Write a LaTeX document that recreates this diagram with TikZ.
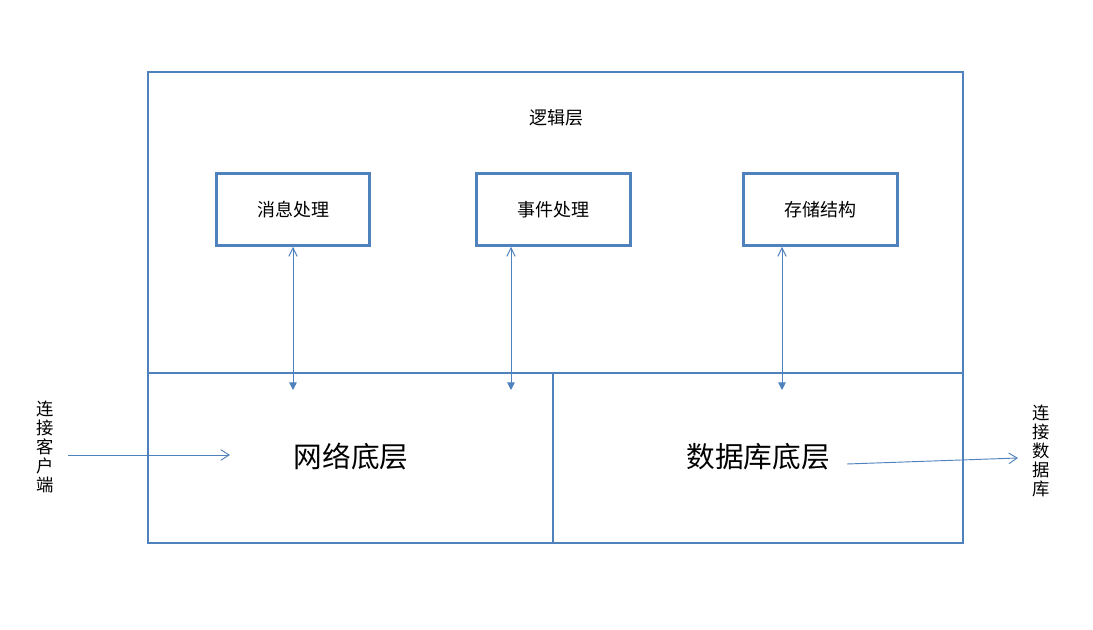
\documentclass[tikz,border=0pt]{standalone}
\usepackage{fontspec}
\setmainfont{Noto Sans CJK SC}
\usepackage{tikz}
\usetikzlibrary{arrows.meta,positioning,calc}
\definecolor{LYBlue}{HTML}{4F81BD}

\begin{document}
\begin{tikzpicture}[
  x=0.75pt,y=-0.75pt,
  region/.style={draw=LYBlue,line width=2.2pt,inner sep=0pt},
  module/.style={draw=LYBlue,line width=2.2pt,minimum width=115pt,minimum height=54pt,
                 font=\fontsize{13.5}{15}\selectfont},
  biarr/.style={{Straight Barb[length=2.2mm,width=2.2mm]}-{Triangle[length=2mm,width=2mm]},line width=0.7pt,draw=LYBlue},
  inarr/.style={-{Straight Barb[length=2.2mm,width=2.8mm]},line width=0.7pt,draw=LYBlue},
  side/.style={font=\fontsize{13}{14.4}\selectfont,align=center,inner sep=0pt}
]
\useasboundingbox (0,0) rectangle (1093,630);
% three layers
\node[region,minimum width=611.25pt,minimum height=225.75pt] (logic) at (555.5,222.5) {};
\node[region,minimum width=303.75pt,minimum height=127.5pt] (net) at (350.5,458) {};
\node[region,minimum width=307.5pt,minimum height=127.5pt] (db) at (758,458) {};
\node[font=\fontsize{13.5}{15}\selectfont] (logictitle) at (556,118) {逻辑层};
\node[font=\fontsize{21.5}{24}\selectfont] (netlabel) at (351,457) {网络底层};
\node[font=\fontsize{21.5}{24}\selectfont] (dblabel) at (758,457) {数据库底层};
% modules in the logic layer
\node[module] (msg) at (293,209.5) {消息处理};
\node[module] (event) at (553.5,209.5) {事件处理};
\node[module] (store) at (820.5,209.5) {存储结构};
\coordinate (msgend) at (293,390);
\coordinate (eventend) at (511,390);
\coordinate (storeend) at (782,390);
\draw[biarr] (msg.south) -- (msgend);
\draw[biarr] (event.south -| eventend) -- (eventend);
\draw[biarr] (store.south -| storeend) -- (storeend);
% outside connections
\node[side] (client) at (45,447) {连\\接\\客\\户\\端};
\node[side] (database) at (1041,451) {连\\接\\数\\据\\库};
\coordinate (clientstart) at (68,455);
\coordinate (clientend) at (230,455);
\coordinate (dbstart) at (847,464);
\coordinate (dbend) at (1018,458);
\draw[inarr] (clientstart) -- (clientend);
\draw[inarr] (dbstart) -- (dbend);
\end{tikzpicture}
\end{document}
